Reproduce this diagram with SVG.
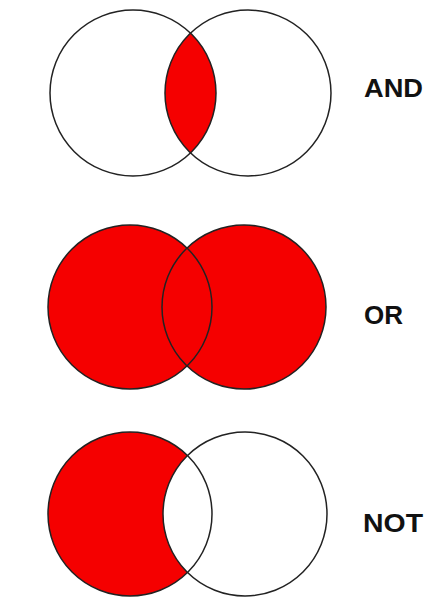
<svg xmlns="http://www.w3.org/2000/svg" width="430" height="601" viewBox="0 0 430 601">
<style>
.o{fill:none;stroke:#222;stroke-width:1.5}
.r{fill:#f50000}
.w{fill:#fff}
.t{font-family:"Liberation Sans",Arial,sans-serif;font-weight:bold;font-size:25px;fill:#111}
</style>
<rect width="430" height="601" fill="#fff"/>
<g id="and">
<path class="r" d="M190.5,33.1 A83,83 0 0 1 190.5,152.9 A83,83 0 0 1 190.5,33.1 Z"/>
<circle class="o" cx="133" cy="93" r="83"/>
<circle class="o" cx="248" cy="93" r="83"/>
<text class="t" x="364" y="97" textLength="59" lengthAdjust="spacingAndGlyphs">AND</text>
</g>
<g id="or">
<circle class="r" cx="130" cy="307" r="82"/>
<circle class="r" cx="244" cy="307" r="82"/>
<circle class="o" cx="130" cy="307" r="82"/>
<circle class="o" cx="244" cy="307" r="82"/>
<text class="t" x="364" y="324" textLength="39" lengthAdjust="spacingAndGlyphs">OR</text>
</g>
<g id="not">
<circle class="r" cx="130" cy="514" r="82"/>
<circle class="w" cx="245" cy="514" r="82"/>
<circle class="o" cx="130" cy="514" r="82"/>
<circle class="o" cx="245" cy="514" r="82"/>
<text class="t" x="363" y="532" textLength="60" lengthAdjust="spacingAndGlyphs">NOT</text>
</g>
</svg>
